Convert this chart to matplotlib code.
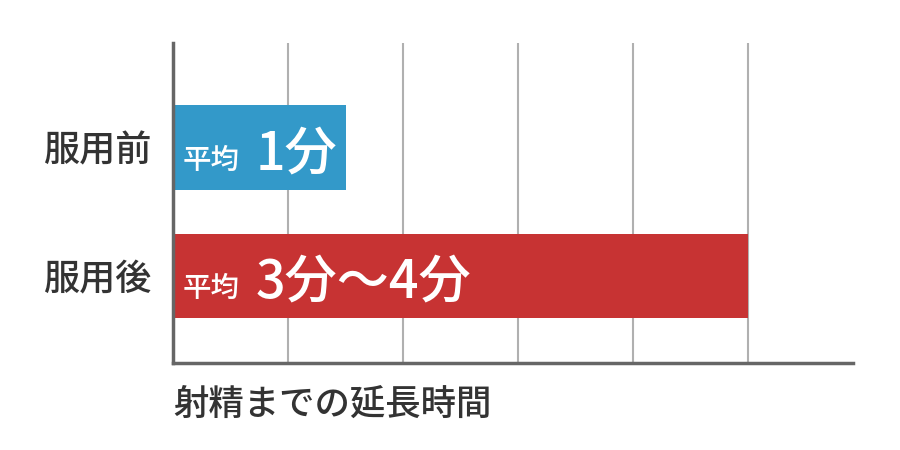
import matplotlib
matplotlib.use("Agg")
import matplotlib.pyplot as plt

plt.rcParams['font.family'] = ['Noto Sans CJK JP', 'DejaVu Sans']

# data
groups = ["服用前", "服用後"]
minutes = [1.5, 5.0]
bar_small = ["平均", "平均"]
bar_big = ["1分", "3分〜4分"]
bar_colors = ["#3399c9", "#c73333"]
xlabel = "射精までの延長時間"

fig = plt.figure(figsize=(9, 4.5), dpi=100)
ax = fig.add_axes([173/900, 87/450, 680/900, 320/450])

ypos = [1, 0]
ax.barh(ypos, minutes, height=0.66, color=bar_colors, zorder=3)

for y, s, b in zip(ypos, bar_small, bar_big):
    ax.text(0.08, y - 0.165, s, color="white", fontsize=20.5, fontweight="medium",
            va="baseline", ha="left", zorder=4)
    ax.text(0.72, y - 0.17, b, color="white", fontsize=37.5, fontweight="medium",
            va="baseline", ha="left", zorder=4)

ax.set_xlim(0, 680/115)
ax.set_ylim(-0.677, 1.813)
ax.set_xticks(range(0, 6))
ax.xaxis.grid(True, color="#b0b0b0", linewidth=1.5, zorder=0)
ax.set_axisbelow(True)
ax.tick_params(axis="x", length=0, labelbottom=False)
ax.tick_params(axis="y", length=0, labelsize=26, labelcolor="#333333", pad=15)
ax.set_yticks(ypos)
ax.set_yticklabels(groups, fontweight="medium")

for side in ["top", "right"]:
    ax.spines[side].set_visible(False)
for side in ["left", "bottom"]:
    ax.spines[side].set_color("#666666")
    ax.spines[side].set_linewidth(2.5)
    ax.spines[side].set_zorder(5)

fig.text(173/900, 1 - 405/450, xlabel, fontsize=25.5, fontweight="medium",
         color="#333333", ha="left", va="center")

fig.savefig("out.png")
